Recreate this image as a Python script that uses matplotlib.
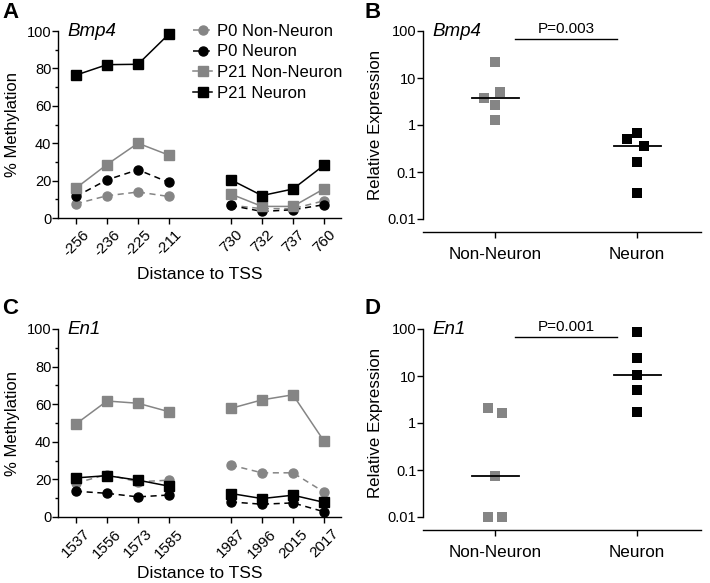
import numpy as np
import matplotlib.pyplot as plt

plt.rcParams['font.family'] = ['Liberation Sans', 'DejaVu Sans']

GRAY = '#858585'

# Panel A: Bmp4 methylation
bmp4_sites = ['-256', '-236', '-225', '-211', '730', '732', '737', '760']
bmp4_p0_non = [7.6, 11.9, 13.9, 11.5, 6.8, 5.0, 5.0, 9.2]
bmp4_p0_neu = [11.5, 20.4, 25.8, 19.0, 6.7, 3.5, 4.4, 7.1]
bmp4_p21_non = [16.0, 28.6, 40.0, 33.6, 12.8, 6.2, 6.2, 15.6]
bmp4_p21_neu = [76.4, 82.0, 82.2, 98.4, 20.4, 12.0, 15.5, 28.2]

# Panel C: En1 methylation
en1_sites = ['1537', '1556', '1573', '1585', '1987', '1996', '2015', '2017']
en1_p0_non = [18.0, 22.6, 18.7, 19.6, 27.6, 23.5, 23.5, 13.3]
en1_p0_neu = [13.7, 12.6, 10.7, 11.7, 8.0, 6.8, 7.5, 2.8]
en1_p21_non = [49.5, 61.7, 60.5, 56.0, 57.8, 62.3, 65.0, 40.4]
en1_p21_neu = [20.8, 22.0, 19.6, 16.4, 12.5, 9.8, 11.6, 7.8]

# Panel B / D: relative expression
groups = ['Non-Neuron', 'Neuron']
bmp4_non_expr = [22, 4.95, 3.7, 2.6, 1.3]
bmp4_non_dx = [0.0, 0.03, -0.08, 0.0, 0.0]
bmp4_neu_expr = [0.68, 0.5, 0.36, 0.166, 0.035]
bmp4_neu_dx = [0.0, -0.07, 0.05, 0.0, 0.0]
bmp4_medians = [3.7, 0.36]

en1_non_expr = [2.1, 1.6, 0.076, 0.01, 0.01]
en1_non_dx = [-0.05, 0.05, 0.0, -0.05, 0.05]
en1_neu_expr = [88, 23.8, 10.5, 5.0, 1.7]
en1_neu_dx = [0.0, 0.0, 0.0, 0.0, 0.0]
en1_medians = [0.076, 10.5]

xpos = [0, 1, 2, 3, 5, 6, 7, 8]

fig = plt.figure(figsize=(7.1, 5.83), dpi=100)
W, H = 710, 583


def box(l, t, r, b):
    return [l / W, 1 - b / H, (r - l) / W, (b - t) / H]


def methyl_panel(ax, sites, p0n, p0e, p21n, p21e, gene, legend=False):
    groups_idx = [slice(0, 4), slice(4, 8)]
    series = [
        (p0n, GRAY, 'o', '--', 'P0 Non-Neuron', 6.5),
        (p0e, 'black', 'o', '--', 'P0 Neuron', 6.5),
        (p21n, GRAY, 's', '-', 'P21 Non-Neuron', 7),
        (p21e, 'black', 's', '-', 'P21 Neuron', 7),
    ]
    for vals, c, m, ls, lab, ms in series:
        for k, sl in enumerate(groups_idx):
            ax.plot(np.array(xpos)[sl], np.array(vals)[sl], color=c, marker=m,
                    ls=ls, lw=1.1, ms=ms, clip_on=False,
                    label=lab if k == 0 else None, dashes=(4, 3) if ls == '--' else (None, None))
    ax.set_xlim(-0.58, 8.55)
    ax.set_ylim(0, 100)
    ax.set_yticks([0, 20, 40, 60, 80, 100])
    ax.set_yticks([10, 30, 50, 70, 90], minor=True)
    ax.set_xticks(xpos)
    ax.set_xticklabels(sites, rotation=45, ha='center')
    ax.tick_params(axis='both', labelsize=10.5, width=1, length=4)
    ax.tick_params(axis='y', pad=0.8)
    ax.tick_params(axis='x', labelsize=11, pad=3)
    ax.tick_params(axis='y', which='minor', length=2.5, width=1)
    for s in ['top', 'right']:
        ax.spines[s].set_visible(False)
    for s in ['left', 'bottom']:
        ax.spines[s].set_linewidth(1)
    ax.set_ylabel('% Methylation', fontsize=12)
    ax.yaxis.set_label_coords(-0.135, 0.5)
    ax.set_xlabel('Distance to TSS', fontsize=12.5)
    ax.xaxis.set_label_coords(0.5, -0.262)
    ax.text(0.035, 1.0, gene, transform=ax.transAxes, fontsize=13.5,
            style='italic', va='center', ha='left')
    if legend:
        ax.legend(loc='upper left', bbox_to_anchor=(193 / W, 1 - 24 / H),
                  bbox_transform=fig.transFigure, frameon=False,
                  fontsize=12, handlelength=1.15, handletextpad=0.3,
                  labelspacing=0.33, borderpad=0, borderaxespad=0)


def expr_panel(ax, non, non_dx, neu, neu_dx, meds, gene, ptxt):
    ax.set_yscale('log')
    ax.scatter(np.array(non_dx), non, marker='s', color=GRAY, s=45,
               linewidths=0, clip_on=False, zorder=3)
    ax.scatter(1 + np.array(neu_dx), neu, marker='s', color='black', s=45,
               linewidths=0, clip_on=False, zorder=3)
    for i, m in enumerate(meds):
        ax.plot([i - 0.165, i + 0.165], [m, m], color='black', lw=1.3, zorder=4)
    ax.plot([0.14, 0.86], [68, 68], color='black', lw=1)
    ax.annotate(ptxt, xy=(0.5, 68), xytext=(0, 2), textcoords='offset points',
                ha='center', va='bottom', fontsize=11)
    ax.set_ylim(0.01, 100)
    ax.set_xlim(-0.51, 1.45)
    ax.set_yticks([0.01, 0.1, 1, 10, 100])
    ax.set_yticklabels(['0.01', '0.1', '1', '10', '100'])
    ax.yaxis.set_minor_locator(plt.NullLocator())
    ax.set_xticks([0, 1])
    ax.set_xticklabels(groups)
    ax.tick_params(axis='both', labelsize=10.5, width=1, length=4)
    ax.tick_params(axis='y', pad=0.8)
    ax.tick_params(axis='x', labelsize=12.3, pad=7)
    for s in ['top', 'right']:
        ax.spines[s].set_visible(False)
    ax.spines['bottom'].set_position(('outward', 9))
    for s in ['left', 'bottom']:
        ax.spines[s].set_linewidth(1)
    ax.set_ylabel('Relative Expression', fontsize=12.2)
    ax.yaxis.set_label_coords(-0.145, 0.5)
    ax.text(0.033, 1.0, gene, transform=ax.transAxes, fontsize=13.5,
            style='italic', va='center', ha='left')


axA = fig.add_axes(box(58, 31, 341, 218))
methyl_panel(axA, bmp4_sites, bmp4_p0_non, bmp4_p0_neu, bmp4_p21_non,
             bmp4_p21_neu, 'Bmp4', legend=True)

axC = fig.add_axes(box(58, 329, 341, 517))
methyl_panel(axC, en1_sites, en1_p0_non, en1_p0_neu, en1_p21_non,
             en1_p21_neu, 'En1')

axB = fig.add_axes(box(423, 31, 701, 219))
expr_panel(axB, bmp4_non_expr, bmp4_non_dx, bmp4_neu_expr, bmp4_neu_dx,
           bmp4_medians, 'Bmp4', 'P=0.003')

axD = fig.add_axes(box(423, 329, 701, 517))
expr_panel(axD, en1_non_expr, en1_non_dx, en1_neu_expr, en1_neu_dx,
           en1_medians, 'En1', 'P=0.001')

for lab, x, y in [('A', 2, 2), ('B', 364, 2), ('C', 2, 298), ('D', 364, 298)]:
    fig.text(x / W, 1 - y / H, lab, fontsize=16, fontweight='bold',
             va='top', ha='left')

fig.savefig('out.png', dpi=100)
